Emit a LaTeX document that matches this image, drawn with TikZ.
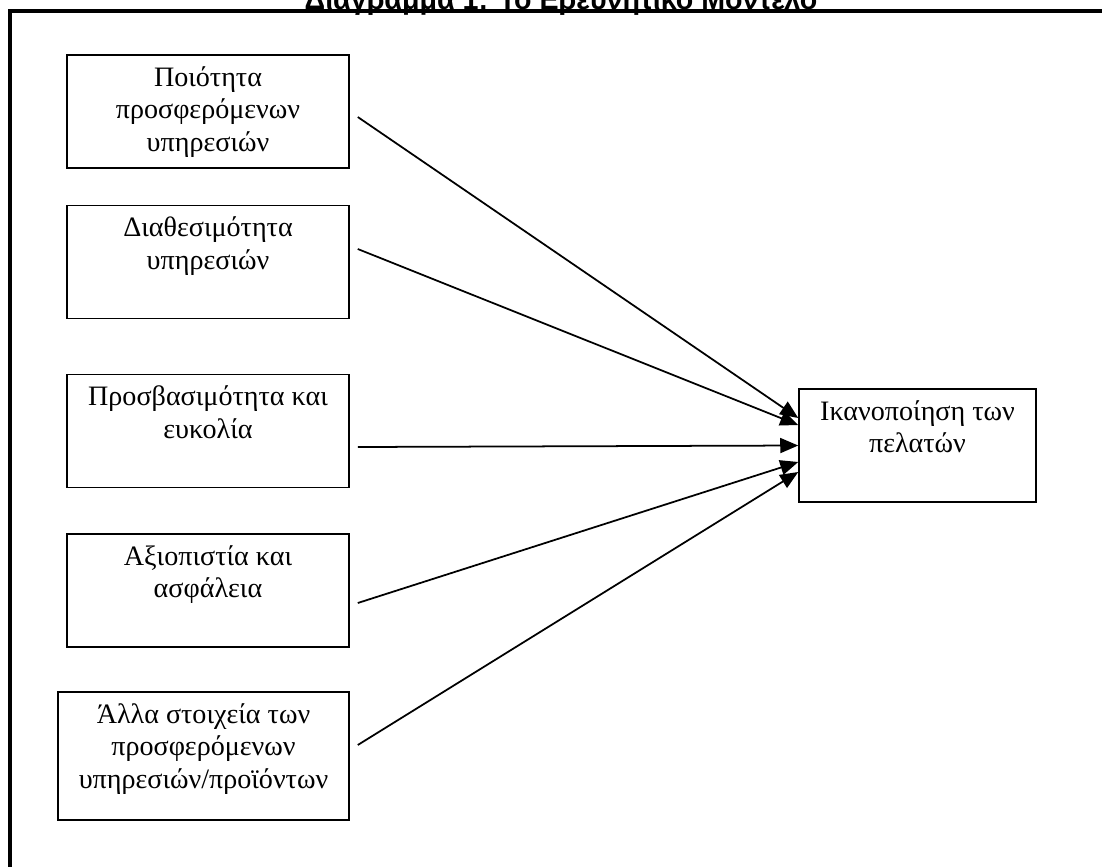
\documentclass[tikz,border=0pt]{standalone}
\usepackage{fontspec}
\setmainfont{Liberation Serif}
\newfontfamily\titlefont{Liberation Sans}
\usetikzlibrary{arrows.meta}

\tikzset{
  factor/.style={draw, line width=0.9pt, minimum width=5.64cm, minimum height=2.26cm},
  factortext/.style={anchor=north, inner sep=0pt, align=center,
    font=\fontsize{16}{18.5}\selectfont},
  link/.style={-{Triangle[length=3.6mm,width=3mm]}, line width=1pt},
}

\begin{document}
\begin{tikzpicture}[x=0.02cm, y=-0.02cm]
\useasboundingbox (0,0) rectangle (1102,866);

% cut title and frame
\node[anchor=base, inner sep=0pt, font=\titlefont\bfseries\fontsize{16.3}{19}\selectfont] (caption) at (561,9) {Διάγραμμα 1: Το Ερευνητικό Μοντέλο};
\draw[line width=2.8pt] (10,900) -- (10,11) -- (1200,11);

% factors
\node[factor] (quality) at (208,111.5) {};
\node[factortext] at ([yshift=-0.24cm]quality.north) {Ποιότητα\\προσφερόμενων\\υπηρεσιών};

\node[factor] (avail) at (208,262) {};
\node[factortext] at ([yshift=-0.24cm]avail.north) {Διαθεσιμότητα\\υπηρεσιών};

\node[factor] (access) at (208,431) {};
\node[factortext] at ([yshift=-0.24cm]access.north) {Προσβασιμότητα και\\ευκολία};

\node[factor] (trust) at (208,590.5) {};
\node[factortext] at ([yshift=-0.24cm]trust.north) {Αξιοπιστία και\\ασφάλεια};

\node[factor, minimum width=5.82cm, minimum height=2.56cm] (other) at (203.5,756) {};
\node[factortext] at ([yshift=-0.24cm]other.north) {Άλλα στοιχεία των\\προσφερόμενων\\υπηρεσιών/προϊόντων};

% outcome
\node[factor, minimum width=4.74cm] (satisf) at (917.5,445.5) {};
\node[factortext] at ([yshift=-0.24cm]satisf.north) {Ικανοποίηση των\\πελατών};

% links
\draw[link] ([xshift=0.16cm, yshift=-0.11cm]quality.east) -- ([yshift=0.55cm]satisf.west);
\draw[link] ([xshift=0.16cm, yshift=0.26cm]avail.east) -- ([yshift=0.41cm]satisf.west);
\draw[link] ([xshift=0.16cm, yshift=-0.32cm]access.east) -- (satisf.west);
\draw[link] ([xshift=0.16cm, yshift=-0.25cm]trust.east) -- ([yshift=-0.33cm]satisf.west);
\draw[link] ([xshift=0.16cm, yshift=0.22cm]other.east) -- ([yshift=-0.53cm]satisf.west);
\end{tikzpicture}
\end{document}
